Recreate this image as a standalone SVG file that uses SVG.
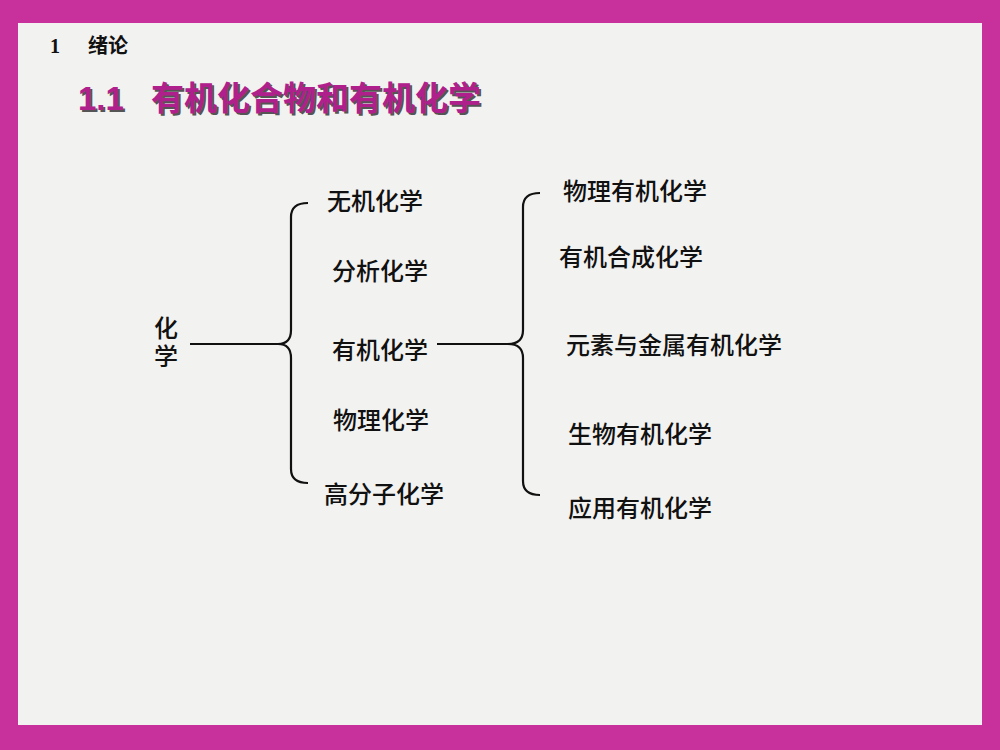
<svg xmlns="http://www.w3.org/2000/svg" width="1000" height="750" viewBox="0 0 1000 750">
<style>
.t{font-family:"Noto Sans CJK SC","Liberation Sans",sans-serif;font-size:24px;fill:#111;font-weight:500}
.c{fill:none;stroke:#111;stroke-width:2.2}
</style>
<rect width="1000" height="750" fill="#c8309c"/>
<rect x="18" y="23" width="964" height="702" fill="#f2f2f0"/>
<text x="50" y="53" font-family="Liberation Serif,serif" font-weight="bold" font-size="20" fill="#111">1</text>
<text x="88" y="53" font-family="Noto Sans CJK SC,sans-serif" font-weight="bold" font-size="20" fill="#111">绪论</text>
<g font-family="Liberation Sans,Noto Sans CJK SC,sans-serif" font-weight="bold" font-size="33">
<text x="80" y="112" fill="#555">1.1</text><text x="153" y="112" fill="#555">有机化合物和有机化学</text>
<text x="78" y="110" fill="#b0208c">1.1</text><text x="151" y="110" fill="#b0208c">有机化合物和有机化学</text>
</g>
<g id="connectors">
<path class="c" d="M190 344 H278 Q291 344 291 330 V217 Q291 203 308 203"/>
<path class="c" d="M278 344 Q291 344 291 358 V469 Q291 483 308 483"/>
<path class="c" d="M437 344 H508 Q523 344 523 330 V207 Q523 193 540 193"/>
<path class="c" d="M508 344 Q523 344 523 358 V481 Q523 495 540 495"/>
</g>
<g id="n-root"><text x="154" y="337" class="t" font-size="20">化</text><text x="154" y="365" class="t" font-size="20">学</text></g>
<g id="n1"><text class="t" x="327" y="210">无机化学</text></g>
<g id="n2"><text class="t" x="332" y="280">分析化学</text></g>
<g id="n3"><text class="t" x="332" y="359">有机化学</text></g>
<g id="n4"><text class="t" x="333" y="429">物理化学</text></g>
<g id="n5"><text class="t" x="324" y="503">高分子化学</text></g>
<g id="m1"><text class="t" x="563" y="200">物理有机化学</text></g>
<g id="m2"><text class="t" x="559" y="266">有机合成化学</text></g>
<g id="m3"><text class="t" x="566" y="354">元素与金属有机化学</text></g>
<g id="m4"><text class="t" x="568" y="443">生物有机化学</text></g>
<g id="m5"><text class="t" x="568" y="517">应用有机化学</text></g>
</svg>
